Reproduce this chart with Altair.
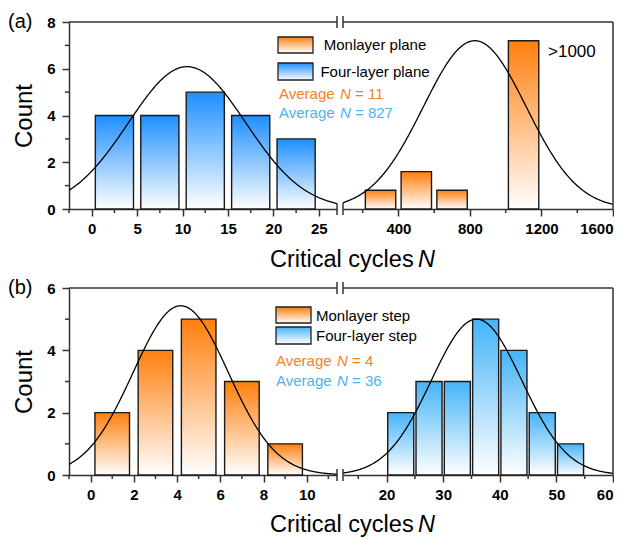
import altair as alt
import numpy as np
import pandas as pd

FONT = "Liberation Sans"
W_L, W_R, H = 268, 270, 187

# ---------------- data ----------------
# panel (a)
a_four_start = [0, 5, 10, 15, 20]
a_four_end = [5, 10, 15, 20, 25]
a_four_count = [4, 4, 5, 4, 3]
a_mono_start = [200, 400, 600, 1000]
a_mono_end = [400, 600, 800, 1200]
a_mono_count = [0.8, 1.6, 0.8, 7.2]
# panel (b)
b_mono_start = [0, 2, 4, 6, 8]
b_mono_end = [2, 4, 6, 8, 10]
b_mono_count = [2, 4, 5, 3, 1]
b_four_start = [20, 25, 30, 35, 40, 45, 50]
b_four_end = [25, 30, 35, 40, 45, 50, 55]
b_four_count = [2, 3, 3, 5, 4, 2, 1]

# normal-fit curves: mean, sigma, peak count
a_four_fit = [10.5, 6.45, 6.09]
a_mono_fit = [827, 288, 7.2]
b_mono_fit = [4.17, 2.2, 5.43]
b_four_fit = [35.9, 8.0, 5.0]

# axes
a_left_dom, a_right_dom = [-2.5, 27], [90, 1600]
b_left_dom, b_right_dom = [-1, 11.4], [12.3, 60]
a_left_major = [0, 5, 10, 15, 20, 25]
a_left_minor = [-2.5, 2.5, 7.5, 12.5, 17.5, 22.5]
a_right_major = [400, 800, 1200, 1600]
a_right_minor = [200, 600, 1000, 1400]
b_left_major = [0, 2, 4, 6, 8, 10]
b_left_minor = [-1, 1, 3, 5, 7, 9, 11]
b_right_major = [20, 30, 40, 50, 60]
b_right_minor = [15, 25, 35, 45, 55]
a_y_dom, a_y_major, a_y_minor = [0, 8], [0, 2, 4, 6, 8], [1, 3, 5, 7]
b_y_dom, b_y_major, b_y_minor = [0, 6], [0, 2, 4, 6], [1, 3, 5]

# texts
a_legend = ["Monlayer plane", "Four-layer plane"]
b_legend = ["Monlayer step", "Four-layer step"]
a_avg = ["11", "827"]
b_avg = ["4", "36"]
note_a = ">1000"

ORANGE = "#FF7F0E"
BLUE_A = "#1E8FFF"
BLUE_B = "#45B4F7"
TXT_OR = "#F5821F"
TXT_BL = "#4DB3F2"
LINE = "#333333"


def grad(top):
    return alt.LinearGradient(
        gradient="linear",
        stops=[alt.GradientStop(color=top, offset=0),
               alt.GradientStop(color="#ffffff", offset=1)],
        x1=0, x2=0, y1=0, y2=1)


ONE = alt.Data(values=[{"k": 1}])


def txt(text, x, y, size=15, color="black", align="left", style="normal", baseline="middle"):
    return alt.Chart(ONE).mark_text(
        text=text, align=align, baseline=baseline, font=FONT, fontSize=size,
        color=color, fontStyle=style
    ).encode(x=alt.value(x), y=alt.value(y))


def swatch(x, y, w, h, top):
    return alt.Chart(ONE).mark_rect(fill=grad(top), stroke="#222222", strokeWidth=1.3).encode(
        x=alt.value(x), x2=alt.value(x + w), y=alt.value(y), y2=alt.value(y + h))


def rule(x, x2, y, y2):
    return alt.Chart(ONE).mark_rule(color=LINE, strokeWidth=1.5).encode(
        x=alt.value(x), x2=alt.value(x2), y=alt.value(y), y2=alt.value(y2))


def part(starts, ends, counts, inset, fit, xdom, xmaj, xmin, ydom, ymaj, ymin,
         top, width, side, extras):
    xs = alt.Scale(domain=xdom, nice=False, zero=False)
    ys = alt.Scale(domain=ydom, nice=False, zero=False)
    xax = alt.Axis(values=xmaj, format="d", title=None, grid=False, labelFont=FONT,
                   labelFontSize=15, labelFontWeight="bold", labelColor="black",
                   labelFlush=1, labelPadding=5, tickSize=7, tickWidth=1.5,
                   tickColor=LINE, domainColor=LINE, domainWidth=1.5)
    if side == "left":
        yax = alt.Axis(values=ymaj, format="d", title="Count", grid=False, labelFont=FONT,
                       labelFontSize=15, labelFontWeight="bold", labelColor="black",
                       labelFlush=False, labelPadding=7, tickSize=7, tickWidth=1.5,
                       tickColor=LINE, domainColor=LINE, domainWidth=1.5,
                       titleFont=FONT, titleFontSize=24, titleFontWeight="normal",
                       titleColor="black", titlePadding=10)
    else:
        yax = None

    bars = pd.DataFrame({"start": starts, "end": ends, "count": counts})
    bar_layer = alt.Chart(bars).transform_calculate(
        x0=f"datum.start + {inset} * (datum.end - datum.start)",
        x1=f"datum.end - {inset} * (datum.end - datum.start)",
        base="0",
    ).mark_rect(fill=grad(top), stroke="#1a1a1a", strokeWidth=1.4).encode(
        x=alt.X("x0:Q", scale=xs, axis=xax), x2="x1:Q",
        y=alt.Y("count:Q", scale=ys, axis=yax), y2="base:Q")

    mu, sd, amp = fit
    gx = np.linspace(xdom[0], xdom[1], 300)
    curve = pd.DataFrame({"x": gx, "y": amp * np.exp(-(gx - mu) ** 2 / (2 * sd ** 2))})
    line_layer = alt.Chart(curve).mark_line(color="black", strokeWidth=1.3, clip=True).encode(
        x=alt.X("x:Q", scale=xs, axis=xax), y=alt.Y("y:Q", scale=ys, axis=yax))

    xminor = alt.Chart(pd.DataFrame({"v": xmin})).mark_rule(color=LINE, strokeWidth=1.5).encode(
        x=alt.X("v:Q", scale=xs, axis=xax), y=alt.value(H), y2=alt.value(H + 4))

    layers = [bar_layer, line_layer, xminor]
    # frame
    layers.append(rule(0, width, 0, 0))
    if side == "left":
        yminor = alt.Chart(pd.DataFrame({"v": ymin})).mark_rule(color=LINE, strokeWidth=1.5).encode(
            y=alt.Y("v:Q", scale=ys, axis=yax), x=alt.value(0), x2=alt.value(-4))
        layers.append(yminor)
        layers.append(rule(width, width, -6, 6))
        layers.append(rule(width, width, H - 6, H + 6))
    else:
        layers.append(rule(width, width, 0, H))
        layers.append(rule(0, 0, -6, 6))
        layers.append(rule(0, 0, H - 6, H + 6))
    layers += extras
    return alt.layer(*layers).properties(width=width, height=H)


def avg_line(value, x, y, color):
    return [txt("Average", x, y, color=color),
            txt("N", x + 61, y, color=color, style="italic"),
            txt("= " + value, x + 76, y, color=color)]


def xtitle(y):
    return [txt("Critical cycles", 201, y, size=23.5, baseline="alphabetic"),
            txt("N", 349, y, size=23.5, style="italic", baseline="alphabetic")]


a_extras = ([txt("(a)", -61, 0, size=20),
             swatch(209, 15, 35, 16, ORANGE), swatch(209, 41, 35, 17, BLUE_A),
             txt(a_legend[0], 306, 23, align="center"),
             txt(a_legend[1], 306, 50, align="center")]
            + avg_line(a_avg[0], 210, 72, TXT_OR) + avg_line(a_avg[1], 210, 91, TXT_BL)
            + xtitle(H + 58))

b_extras = ([txt("(b)", -61, 0, size=20),
             swatch(207, 19, 35, 16, ORANGE), swatch(207, 39, 35, 17, BLUE_B),
             txt(b_legend[0], 247, 28), txt(b_legend[1], 247, 48)]
            + avg_line(b_avg[0], 207, 73, TXT_OR) + avg_line(b_avg[1], 207, 93, TXT_BL)
            + xtitle(H + 57))

a_left = part(a_four_start, a_four_end, a_four_count, 0.08, a_four_fit, a_left_dom,
              a_left_major, a_left_minor, a_y_dom, a_y_major, a_y_minor, BLUE_A, W_L, "left", a_extras)
a_right = part(a_mono_start, a_mono_end, a_mono_count, 0.075, a_mono_fit, a_right_dom,
               a_right_major, a_right_minor, a_y_dom, a_y_major, a_y_minor, ORANGE, W_R, "right",
               [txt(note_a, 205, 30, size=17)])
b_left = part(b_mono_start, b_mono_end, b_mono_count, 0.1, b_mono_fit, b_left_dom,
              b_left_major, b_left_minor, b_y_dom, b_y_major, b_y_minor, ORANGE, W_L, "left", b_extras)
b_right = part(b_four_start, b_four_end, b_four_count, 0.04, b_four_fit, b_right_dom,
               b_right_major, b_right_minor, b_y_dom, b_y_major, b_y_minor, BLUE_B, W_R, "right", [])

chart = alt.concat(a_left, a_right, b_left, b_right, columns=2,
                   spacing={"row": 79, "column": 6}, bounds="flush").properties(
    padding={"left": 0, "top": 4, "right": 0, "bottom": 0},
    background="white",
).configure_view(stroke=None)

chart.save("out.html", embed_options={"renderer": "svg", "actions": False})
